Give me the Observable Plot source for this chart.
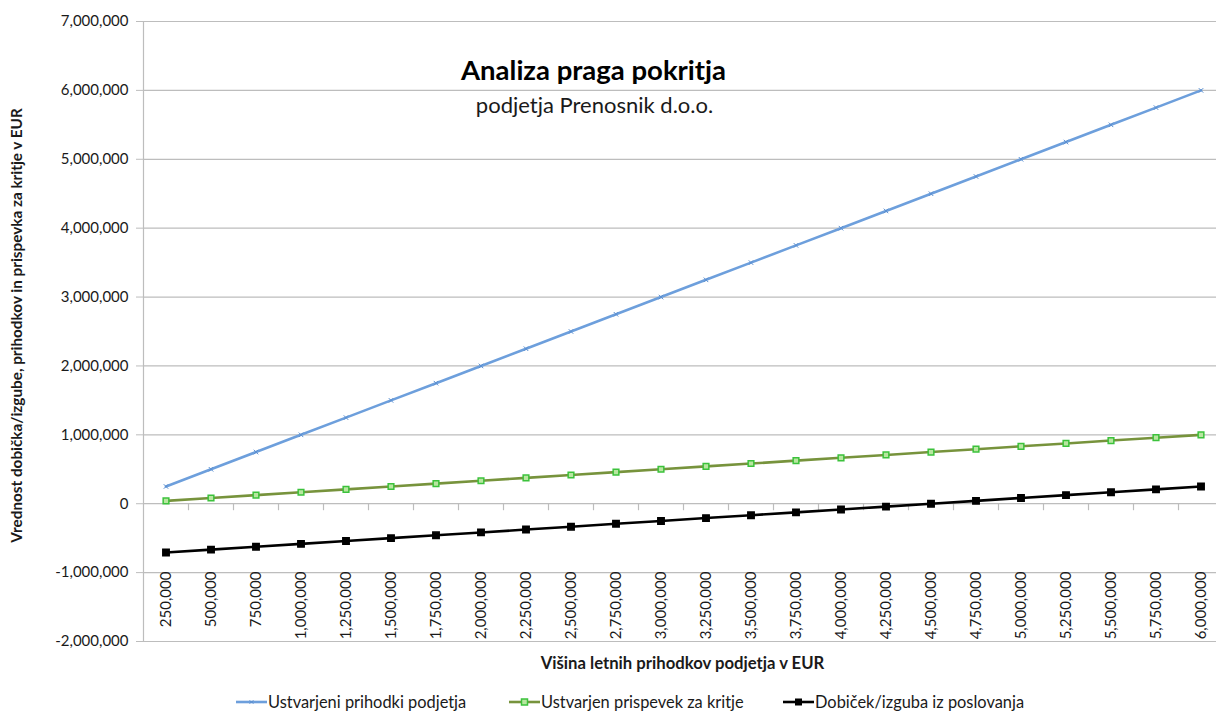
<!DOCTYPE html>
<html>
<head>
<meta charset="utf-8">
<script src="https://cdn.jsdelivr.net/npm/d3@7"></script>
<script src="https://cdn.jsdelivr.net/npm/@observablehq/plot@0.6"></script>
<style>
  html, body { margin: 0; padding: 0; background: #fff; overflow: hidden; }
  body { width: 1216px; height: 711px; position: relative; font-family: Lato, "Open Sans", sans-serif; }
  #chart svg { display: block; }
  .legend { position: absolute; top: 692px; left: 0; width: 1216px; height: 19px; font-size: 16.4px; line-height: 19px; color: #1a1a1a; }
  .legend .item { position: absolute; display: flex; align-items: center; white-space: nowrap; }
  .legend svg { display: block; margin-right: 1px; }
</style>
</head>
<body>
<div id="chart"></div>
<div class="legend" id="legend"></div>
<script>
// ---- data ----
const categories = [250000, 500000, 750000, 1000000, 1250000, 1500000, 1750000, 2000000,
  2250000, 2500000, 2750000, 3000000, 3250000, 3500000, 3750000, 4000000,
  4250000, 4500000, 4750000, 5000000, 5250000, 5500000, 5750000, 6000000];
const revenue = [250000, 500000, 750000, 1000000, 1250000, 1500000, 1750000, 2000000,
  2250000, 2500000, 2750000, 3000000, 3250000, 3500000, 3750000, 4000000,
  4250000, 4500000, 4750000, 5000000, 5250000, 5500000, 5750000, 6000000];
const contribution = [41667, 83333, 125000, 166667, 208333, 250000, 291667, 333333,
  375000, 416667, 458333, 500000, 541667, 583333, 625000, 666667,
  708333, 750000, 791667, 833333, 875000, 916667, 958333, 1000000];
const profit = [-708333, -666667, -625000, -583333, -541667, -500000, -458333, -416667,
  -375000, -333333, -291667, -250000, -208333, -166667, -125000, -83333,
  -41667, 0, 41667, 83333, 125000, 166667, 208333, 250000];
const yTicks = [-2000000, -1000000, 0, 1000000, 2000000, 3000000, 4000000, 5000000, 6000000, 7000000];
const seriesNames = ["Ustvarjeni prihodki podjetja", "Ustvarjen prispevek za kritje", "Dobiček/izguba iz poslovanja"];
const title = "Analiza praga pokritja";
const subtitle = "podjetja Prenosnik d.o.o.";
const xTitle = "Višina letnih prihodkov podjetja v EUR";
const yTitle = "Vrednost dobička/izgube, prihodkov in prispevka za kritje v EUR";

// ---- build ----
const fmt = d => d.toLocaleString("en-US");
const step = categories[1] - categories[0];
const xDomain = [categories[0] - step / 2, categories[categories.length - 1] + step / 2];
const between = d3.pairs(categories).map(([a, b]) => (a + b) / 2);
const rows = (vals) => categories.map((c, i) => ({x: c, y: vals[i]}));
const rRev = rows(revenue), rCon = rows(contribution), rPro = rows(profit);

const blue = "#6d9fdc", green = "#77933c", greenMark = "#3cc23c", black = "#000000", gridC = "#bdbdbd";
const textC = "#1a1a1a";

const chart = Plot.plot({
  width: 1216,
  height: 690,
  marginLeft: 143,
  marginRight: -7,
  marginTop: 21,
  marginBottom: 49,
  style: {fontFamily: "Lato, 'Open Sans', sans-serif", background: "#fff", overflow: "visible"},
  x: {type: "linear", domain: xDomain, axis: null},
  y: {domain: [yTicks[0], yTicks[yTicks.length - 1]], axis: null},
  marks: [
    Plot.gridY(yTicks, {stroke: gridC, strokeOpacity: 1, strokeWidth: 1.2}),
    Plot.ruleX([xDomain[0]], {stroke: gridC, strokeWidth: 1.2}),
    Plot.axisY(yTicks, {label: null, tickSize: 7, tickPadding: 8, tickFormat: fmt, fontSize: 15, stroke: gridC, fill: textC}),
    // category tick marks on the zero line
    Plot.ruleX(between, {y1: 0, y2: 0, insetBottom: -7, stroke: gridC, strokeWidth: 1.2}),
    // category labels (low position)
    Plot.text(categories, {x: d => d, y: yTicks[1], text: fmt, rotate: -90, textAnchor: "end",
      lineAnchor: "middle", dy: -1, fontSize: 15, fill: textC}),
    // series
    Plot.line(rRev, {x: "x", y: "y", stroke: blue, strokeWidth: 2.6}),
    Plot.dot(rRev, {x: "x", y: "y", symbol: "times", r: 2.2, stroke: "#5b8fd0", strokeWidth: 1}),
    Plot.line(rCon, {x: "x", y: "y", stroke: green, strokeWidth: 2.6}),
    Plot.dot(rCon, {x: "x", y: "y", symbol: "square", r: 3.2, stroke: greenMark, fill: "#b8e6a0", strokeWidth: 1.5}),
    Plot.line(rPro, {x: "x", y: "y", stroke: black, strokeWidth: 2.6}),
    Plot.dot(rPro, {x: "x", y: "y", symbol: "square", r: 3.6, fill: black, stroke: black}),
    // titles
    Plot.text([title], {frameAnchor: "top", textAnchor: "middle", dx: -90, dy: 50, lineAnchor: "middle", fontSize: 27.5, fontWeight: "bold", fill: "#000"}),
    Plot.text([subtitle], {frameAnchor: "top", textAnchor: "middle", dx: -89, dy: 84, lineAnchor: "middle", fontSize: 22, fill: textC}),
    Plot.text([xTitle], {frameAnchor: "bottom", textAnchor: "middle", dx: -1, dy: 22, lineAnchor: "middle", fontSize: 16.7, fontWeight: "bold", fill: textC}),
    Plot.text([yTitle], {frameAnchor: "left", textAnchor: "middle", dx: -126, dy: -6, rotate: -90, lineAnchor: "middle", fontSize: 15.3, fontWeight: "bold", fill: textC})
  ]
});
document.getElementById("chart").appendChild(chart);

// ---- legend ----
const legendItems = [
  {name: seriesNames[0], left: 236, stroke: blue, marker: "times"},
  {name: seriesNames[1], left: 509, stroke: green, marker: "square-open"},
  {name: seriesNames[2], left: 783, stroke: black, marker: "square"}
];
const legend = d3.select("#legend");
for (const it of legendItems) {
  const item = legend.append("div").attr("class", "item").style("left", it.left + "px");
  const s = item.append("svg").attr("width", 31).attr("height", 14);
  s.append("line").attr("x1", 0).attr("x2", 31).attr("y1", 7).attr("y2", 7).attr("stroke", it.stroke).attr("stroke-width", 2.6);
  if (it.marker === "times") {
    s.append("path").attr("d", "M13.5,5.5L17.5,8.5M13.5,8.5L17.5,5.5").attr("stroke", "#5b8fd0").attr("stroke-width", 1);
  } else if (it.marker === "square-open") {
    s.append("rect").attr("x", 12.5).attr("y", 4).attr("width", 6).attr("height", 6).attr("fill", "#b8e6a0").attr("stroke", greenMark).attr("stroke-width", 1.5);
  } else {
    s.append("rect").attr("x", 12).attr("y", 3.5).attr("width", 7).attr("height", 7).attr("fill", black);
  }
  item.append("span").text(it.name);
}
</script>
</body>
</html>
